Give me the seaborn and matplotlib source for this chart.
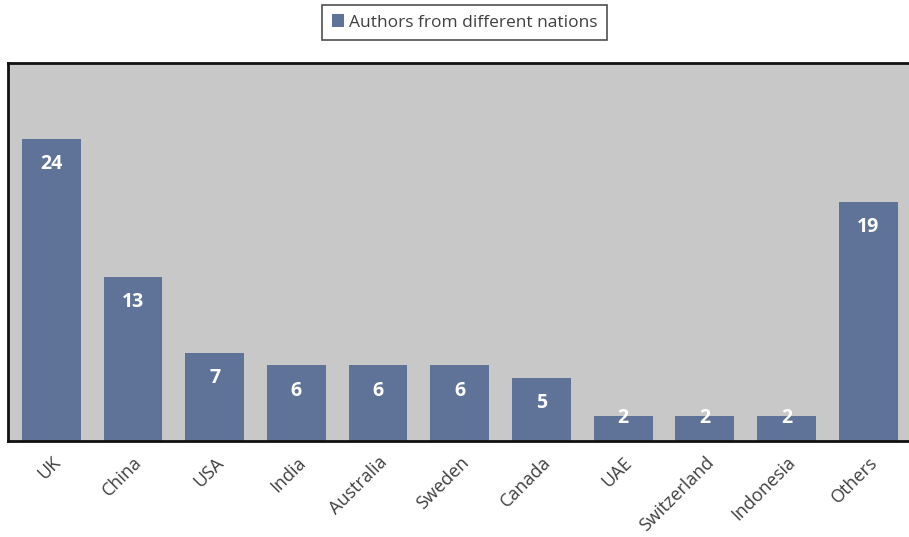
import matplotlib
matplotlib.use('Agg')
import pandas as pd
import seaborn as sns
import matplotlib.pyplot as plt
from matplotlib.patches import Patch

# data
countries = ['UK', 'China', 'USA', 'India', 'Australia', 'Sweden', 'Canada',
             'UAE', 'Switzerland', 'Indonesia', 'Others']
authors = [24, 13, 7, 6, 6, 6, 5, 2, 2, 2, 19]
legend_label = 'Authors from different nations'

df = pd.DataFrame({'country': countries, 'authors': authors})

sns.set_style('white')
plt.rcParams['font.family'] = ['Open Sans', 'DejaVu Sans']

bar_color = '#5f7399'

fig = plt.figure(figsize=(9.09, 5.37), dpi=100)
ax = fig.add_axes([0.0088, 0.1788, 0.9912, 0.7039])
ax.set_facecolor('#c8c8c8')

sns.barplot(data=df, x='country', y='authors', color=bar_color,
            saturation=1, width=0.72, linewidth=0, edgecolor='none', ax=ax)

for i, v in enumerate(authors):
    ax.text(i, max(v - 2.0, 1.8), str(v), ha='center', va='center', color='white',
            fontsize=14, fontweight='bold')

ax.set_xlim(-0.53, 10.5)
ax.set_ylim(0, 30)
ax.set_yticks([])
ax.set_xlabel('')
ax.set_ylabel('')
ax.tick_params(axis='x', length=0, pad=9)
plt.setp(ax.get_xticklabels(), rotation=45, ha='right', rotation_mode='anchor',
         fontsize=13, color='#404040')

for side in ['left', 'top', 'bottom']:
    ax.spines[side].set_visible(True)
    ax.spines[side].set_color('#111111')
    ax.spines[side].set_linewidth(2)
ax.spines['right'].set_visible(False)

handle = Patch(facecolor=bar_color, edgecolor='none')
leg = fig.legend([handle], [legend_label], loc='center', bbox_to_anchor=(0.511, 0.958),
                 frameon=True, fontsize=12.5, handlelength=0.7, handleheight=0.7,
                 handletextpad=0.3, borderpad=0.55, borderaxespad=0, fancybox=False)
leg.get_frame().set_edgecolor('#222222')
leg.get_frame().set_linewidth(1.2)
for t in leg.get_texts():
    t.set_color('#404040')

fig.savefig('out.png', dpi=100)
